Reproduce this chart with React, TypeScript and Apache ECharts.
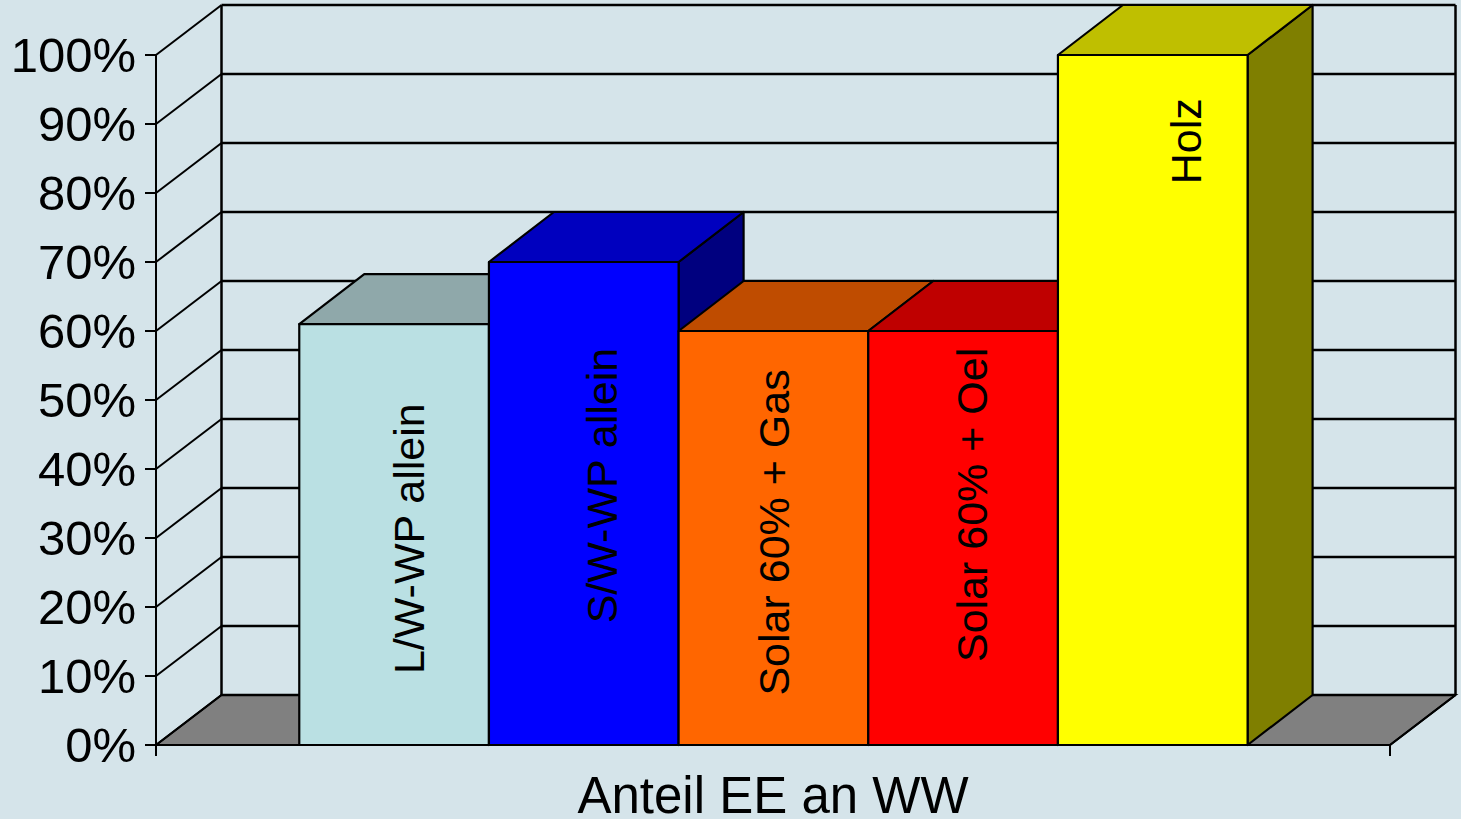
import React, { useEffect, useRef } from "react";
import * as echarts from "echarts";

const CATEGORY = ["Anteil EE an WW"];
const TICKS = [0, 10, 20, 30, 40, 50, 60, 70, 80, 90, 100];
const BAR_NAMES = ["L/W-WP allein", "S/W-WP allein", "Solar 60% + Gas", "Solar 60% + Oel", "Holz"];
const BAR_VALUES = [61, 70, 60, 60, 100];
const FRONT_COLORS = ["#BAE0E3", "#0000FF", "#FF6600", "#FF0000", "#FFFF00"];
const TOP_COLORS = ["#8FA8AA", "#0000BF", "#BF4C00", "#BF0000", "#BFBF00"];
const SIDE_COLORS = ["#8FA8AA", "#00007F", "#7F3300", "#7F0000", "#7F7F00"];
const LABEL_VALUES = [29.9, 37.6, 30.8, 34.8, 87.5];
const LABEL_SHIFTS = [15, 18, 1, 9, 33];

const BG = "#D5E4EA";
const FONT = '"Liberation Sans", Arial, sans-serif';
const DEPTH_X = 65.5;
const BAR_DEPTH_X = 65;
const DEPTH_Y = 50;
const BAR_START = 0.1161;
const BAR_FRACTION = 0.1537;

export default function App() {
  const ref = useRef<HTMLDivElement>(null);
  useEffect(() => {
    const chart = echarts.init(ref.current!, undefined, { renderer: "svg" });
    chart.setOption({
      animation: false,
      backgroundColor: BG,
      grid: { left: 156, top: 55, width: 1234, height: 690, outerBoundsMode: "none", containLabel: false },
      xAxis: {
        type: "category",
        data: CATEGORY,
        boundaryGap: true,
        axisLine: { lineStyle: { color: "#000", width: 2 } },
        axisTick: { show: true, length: 11, lineStyle: { color: "#000", width: 2 } },
        axisLabel: { color: "#000", fontSize: 51, lineHeight: 44, fontFamily: FONT, margin: 28 },
      },
      yAxis: {
        type: "value",
        min: 0,
        max: 100,
        interval: 10,
        splitLine: { show: false },
        axisLine: { show: true, lineStyle: { color: "#000", width: 2 } },
        axisTick: { show: true, length: 11, lineStyle: { color: "#000", width: 2 } },
        axisLabel: {
          color: "#000",
          fontSize: 49,
          fontFamily: FONT,
          margin: 20,
          formatter: "{value}%",
        },
      },
      series: [
        {
          type: "custom",
          name: "floor",
          silent: true,
          data: [[0, 0]],
          encode: { x: 0, y: 1 },
          renderItem: (_p: any, api: any) => {
            const band = api.size([1, 0])[0];
            const c = api.coord([0, 0]);
            const l = c[0] - band / 2;
            const r = c[0] + band / 2;
            const y = c[1];
            return {
              type: "polygon",
              shape: {
                points: [
                  [l, y],
                  [l + DEPTH_X, y - DEPTH_Y],
                  [r + DEPTH_X, y - DEPTH_Y],
                  [r, y],
                ],
              },
              style: { fill: "#808080", stroke: "#000", lineWidth: 2 },
            };
          },
        },
        {
          type: "custom",
          name: "walls",
          silent: true,
          data: TICKS.map((t) => [0, t]),
          encode: { x: 0, y: 1 },
          renderItem: (_p: any, api: any) => {
            const band = api.size([1, 0])[0];
            const c = api.coord([0, api.value(1)]);
            const c0 = api.coord([0, 0]);
            const c1 = api.coord([0, 100]);
            const l = c[0] - band / 2;
            const r = c[0] + band / 2;
            const y = c[1];
            const children: any[] = [
              {
                type: "line",
                shape: { x1: l, y1: y, x2: l + DEPTH_X, y2: y - DEPTH_Y },
                style: { stroke: "#000", lineWidth: 2 },
              },
              {
                type: "line",
                shape: { x1: l + DEPTH_X, y1: y - DEPTH_Y, x2: r + DEPTH_X, y2: y - DEPTH_Y },
                style: { stroke: "#000", lineWidth: 2.5 },
              },
            ];
            if (api.value(1) === 100) {
              for (const x of [l + DEPTH_X, r + DEPTH_X]) {
                children.push({
                  type: "line",
                  shape: { x1: x, y1: c0[1] - DEPTH_Y, x2: x, y2: c1[1] - DEPTH_Y },
                  style: { stroke: "#000", lineWidth: 2.5 },
                });
              }
              children.push({
                type: "line",
                shape: { x1: r, y1: c0[1], x2: r + DEPTH_X, y2: c0[1] - DEPTH_Y },
                style: { stroke: "#000", lineWidth: 2 },
              });
            }
            return { type: "group", children };
          },
        },
        {
          type: "custom",
          name: "bars",
          silent: true,
          data: BAR_VALUES.map((v, i) => [0, v, i]),
          encode: { x: 0, y: 1 },
          renderItem: (_p: any, api: any) => {
            const i = api.value(2);
            const band = api.size([1, 0])[0];
            const base = api.coord([0, 0]);
            const top = api.coord([0, api.value(1)]);
            const w = band * BAR_FRACTION;
            const x0 = base[0] - band / 2 + band * BAR_START + i * w;
            const x1 = x0 + w;
            const stroke = { stroke: "#000", lineWidth: 2.2, lineJoin: "round" };
            const labelAt = api.coord([0, LABEL_VALUES[i]]);
            return {
              type: "group",
              children: [
                {
                  type: "polygon",
                  shape: {
                    points: [
                      [x1, top[1]],
                      [x1 + BAR_DEPTH_X, top[1] - DEPTH_Y],
                      [x1 + BAR_DEPTH_X, base[1] - DEPTH_Y],
                      [x1, base[1]],
                    ],
                  },
                  style: { fill: SIDE_COLORS[i], ...stroke },
                },
                {
                  type: "polygon",
                  shape: {
                    points: [
                      [x0, top[1]],
                      [x0 + BAR_DEPTH_X, top[1] - DEPTH_Y],
                      [x1 + BAR_DEPTH_X, top[1] - DEPTH_Y],
                      [x1, top[1]],
                    ],
                  },
                  style: { fill: TOP_COLORS[i], ...stroke },
                },
                {
                  type: "polygon",
                  shape: {
                    points: [
                      [x0, top[1]],
                      [x1, top[1]],
                      [x1, base[1]],
                      [x0, base[1]],
                    ],
                  },
                  style: { fill: FRONT_COLORS[i], ...stroke },
                },
                {
                  type: "text",
                  x: (x0 + x1) / 2 + LABEL_SHIFTS[i],
                  y: labelAt[1],
                  rotation: Math.PI / 2,
                  style: {
                    text: BAR_NAMES[i],
                    fill: "#000",
                    fontSize: 43,
                    fontFamily: FONT,
                    textAlign: "center",
                    textVerticalAlign: "middle",
                  },
                },
              ],
            };
          },
        },
      ],
    });
    return () => chart.dispose();
  }, []);
  return (
    <div
      ref={ref}
      style={{ position: "fixed", left: 0, top: 0, width: 1461, height: 819, background: BG }}
    />
  );
}
